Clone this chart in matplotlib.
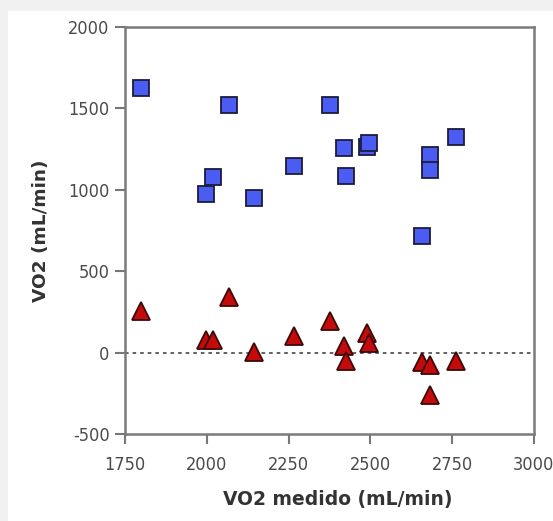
import matplotlib
matplotlib.use("Agg")
import matplotlib.pyplot as plt
from matplotlib.patches import Rectangle

# Data
vo2_medido = [1800, 1998, 2020, 2069, 2144, 2268, 2375, 2419, 2426, 2490, 2497, 2657, 2682, 2682, 2763]
vo2_squares = [1623, 972, 1077, 1521, 948, 1146, 1521, 1259, 1085, 1262, 1285, 718, 1214, 1122, 1322]
vo2_triangles = [254, 80, 80, 342, 2, 104, 192, 43, -53, 121, 60, -60, -74, -258, -49]
x_ticks = [1750, 2000, 2250, 2500, 2750, 3000]
y_ticks = [-500, 0, 500, 1000, 1500, 2000]

W, H = 553, 521
fig = plt.figure(figsize=(W / 100, H / 100), dpi=100, facecolor="#f1f1f1")
fig.patches.append(Rectangle((8 / W, 0), 1 - 8 / W, 1 - 11 / H, transform=fig.transFigure,
                             facecolor="white", edgecolor="none", zorder=-10))

ax = fig.add_axes([125 / W, 1 - 434 / H, (534 - 125) / W, (434 - 27) / H])
ax.set_zorder(5)
ax.set_facecolor("white")

ax.axhline(0, color="#555555", linestyle=(0, (2, 2.2)), linewidth=1.3, zorder=1)

ax.plot(vo2_medido, vo2_squares, linestyle="none", marker="s", markersize=11.5,
        markerfacecolor="#4a5cf2", markeredgecolor="#1c1c3c", markeredgewidth=1.3, zorder=3)
ax.plot(vo2_medido, vo2_triangles, linestyle="none", marker="^", markersize=13,
        markerfacecolor="#c40a0a", markeredgecolor="#3a0a0a", markeredgewidth=1.3, zorder=3)

ax.set_xlim(1750, 3000)
ax.set_ylim(-500, 2000)
ax.set_xticks(x_ticks)
ax.set_yticks(y_ticks)
tick_kw = dict(fontfamily="DejaVu Sans", fontstretch="condensed", fontsize=13, color="#4a4a4a")
ax.set_xticklabels([str(v) for v in x_ticks], **tick_kw)
ax.set_yticklabels([str(v) for v in y_ticks], **tick_kw)
ax.tick_params(direction="out", length=7, width=1.5, color="#777777")
ax.tick_params(axis="x", pad=9)
ax.tick_params(axis="y", pad=4)

for s in ax.spines.values():
    s.set_color("#7a7a7a")
    s.set_linewidth(1.8)

ax.set_xlabel("VO2 medido (mL/min)", fontsize=13.5, fontweight="bold", color="#333333", labelpad=11)
ax.xaxis.label.set_x(0.52)
ax.set_ylabel("VO2 (mL/min)", fontsize=13.3, fontweight="bold", color="#333333", labelpad=13)

fig.savefig("out.png", dpi=100, facecolor=fig.get_facecolor())
